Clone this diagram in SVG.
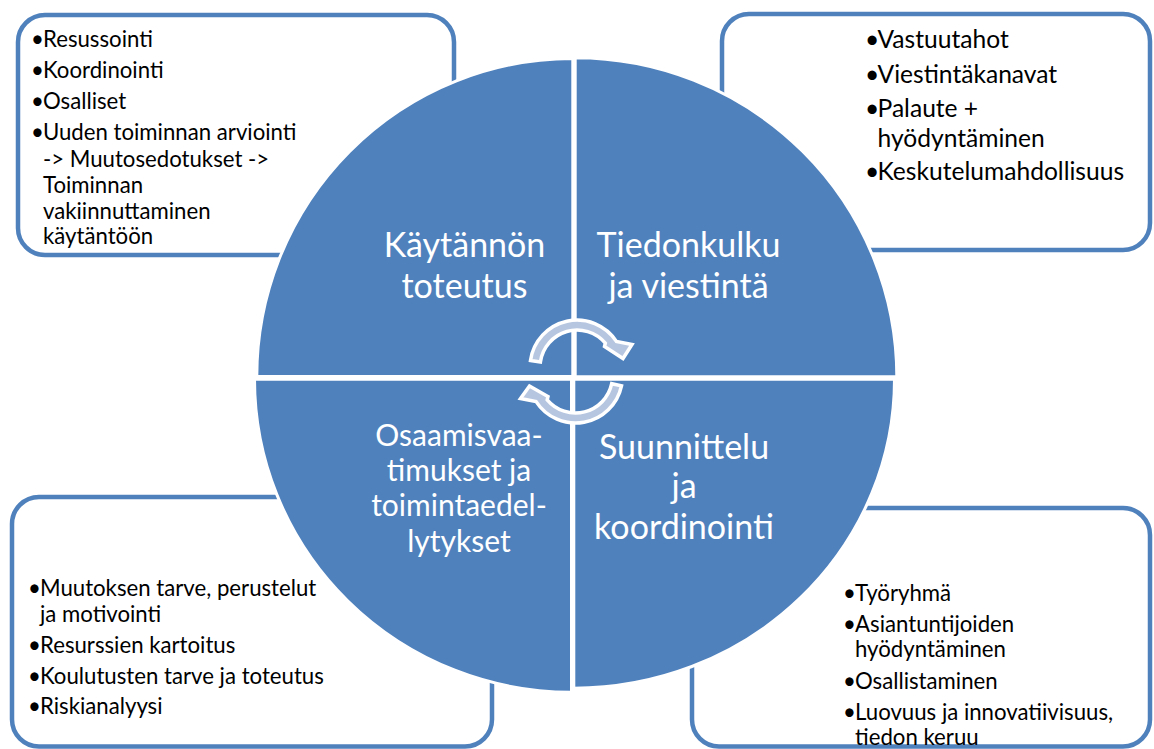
<svg xmlns="http://www.w3.org/2000/svg" width="1154" height="749" viewBox="0 0 1154 749">
<style>
.box{fill:#ffffff;stroke:#4f81bd;stroke-width:4.5}
.quad{fill:#4f81bd;stroke:#ffffff;stroke-width:3}
.body{font-family:Lato,"Liberation Sans",sans-serif;font-size:22.2px;fill:#000000}
.body2{font-family:Lato,"Liberation Sans",sans-serif;font-size:24.6px;fill:#000000}
.lbl{font-family:Lato,"Liberation Sans",sans-serif;font-size:34px;fill:#ffffff;text-anchor:middle}
.lbl2{font-family:Lato,"Liberation Sans",sans-serif;font-size:30px;fill:#ffffff;text-anchor:middle}
.arrow{fill:#b7c6e0;stroke:#ffffff;stroke-width:3.5;stroke-linejoin:miter}
</style>
<rect width="1154" height="749" fill="#ffffff"/>
<g id="box-tl">
<rect class="box" x="18" y="15" width="436" height="240" rx="27"/>
<text class="body" x="31" y="47">•<tspan x="43">Resussointi</tspan></text>
<text class="body" x="31" y="77.5">•<tspan x="43">Koordinointi</tspan></text>
<text class="body" x="31" y="108.5">•<tspan x="43">Osalliset</tspan></text>
<text class="body" x="31" y="140">•<tspan x="43">Uuden toiminnan arviointi</tspan></text>
<text class="body" x="43" y="166.5">-&gt; Muutosedotukset -&gt;</text>
<text class="body" x="43" y="192.5">Toiminnan</text>
<text class="body" x="43" y="218.5">vakiinnuttaminen</text>
<text class="body" x="43" y="244">käytäntöön</text>
</g>
<g id="box-tr">
<rect class="box" x="722" y="14" width="428" height="236" rx="27"/>
<text class="body2" x="865" y="48.3">•<tspan x="877.5">Vastuutahot</tspan></text>
<text class="body2" x="865" y="82.5">•<tspan x="877.5">Viestintäkanavat</tspan></text>
<text class="body2" x="865" y="116.5">•<tspan x="877.5">Palaute +</tspan></text>
<text class="body2" x="877.5" y="146.5">hyödyntäminen</text>
<text class="body2" x="865" y="180">•<tspan x="877.5">Keskutelumahdollisuus</tspan></text>
</g>
<g id="box-bl">
<rect class="box" x="12" y="497" width="480" height="249.5" rx="27"/>
<text class="body" x="28" y="596">•<tspan x="40">Muutoksen tarve, perustelut</tspan></text>
<text class="body" x="40" y="621.5">ja motivointi</text>
<text class="body" x="28" y="652.7">•<tspan x="40">Resurssien kartoitus</tspan></text>
<text class="body" x="28" y="684">•<tspan x="40">Koulutusten tarve ja toteutus</tspan></text>
<text class="body" x="28" y="714">•<tspan x="40">Riskianalyysi</tspan></text>
</g>
<g id="box-br">
<rect class="box" x="692" y="508" width="458" height="238.5" rx="27"/>
<text class="body" x="843" y="600.7">•<tspan x="855">Työryhmä</tspan></text>
<text class="body" x="843" y="631.7">•<tspan x="855">Asiantuntijoiden</tspan></text>
<text class="body" x="855" y="656.7">hyödyntäminen</text>
<text class="body" x="843" y="688.8">•<tspan x="855">Osallistaminen</tspan></text>
<text class="body" x="843" y="719.8">•<tspan x="855">Luovuus ja innovatiivisuus,</tspan></text>
<text class="body" x="855" y="745">tiedon keruu</text>
</g>
<g id="quad-tl">
<path class="quad" d="M572.8 376.5 H256.8 A316 318 0 0 1 572.8 58.5 Z"/>
<text class="lbl" x="464.5" y="257">Käytännön</text>
<text class="lbl" x="464.5" y="298">toteutus</text>
</g>
<g id="quad-tr">
<path class="quad" d="M575.2 376.8 V57.8 A321.6 319 0 0 1 896.8 376.8 Z"/>
<text class="lbl" x="688.5" y="257">Tiedonkulku</text>
<text class="lbl" x="688.5" y="298">ja viestintä</text>
</g>
<g id="quad-bl">
<path class="quad" d="M571.5 379.2 H254.5 A317 313 0 0 0 571.5 692.2 Z"/>
<text class="lbl2" x="459" y="446">Osaamisvaa-</text>
<text class="lbl2" x="459" y="481">timukset ja</text>
<text class="lbl2" x="459" y="516">toimintaedel-</text>
<text class="lbl2" x="459" y="552">lytykset</text>
</g>
<g id="quad-br">
<path class="quad" d="M573.8 379.2 H894.5 A320.7 309 0 0 1 573.8 688.2 Z"/>
<text class="lbl" x="684" y="458.5">Suunnittelu</text>
<text class="lbl" x="684" y="497.5">ja</text>
<text class="lbl" x="684" y="539">koordinointi</text>
</g>
<g id="connectors">
<path class="arrow" d="M530.5 360.5 A47 47 0 0 1 616.4 341.4 L632 344.5 L623 358.5 L604.5 346.5 L605.3 343.2 A37 37 0 0 0 540.4 361.9 Z"/>
<path class="arrow" d="M621.5 385.8 A47 47 0 0 1 536.1 401.6 L520.5 398.5 L529.5 386 L548 396.5 L547.2 399.8 A37 37 0 0 0 611.7 383.7 Z"/>
</g>
</svg>
